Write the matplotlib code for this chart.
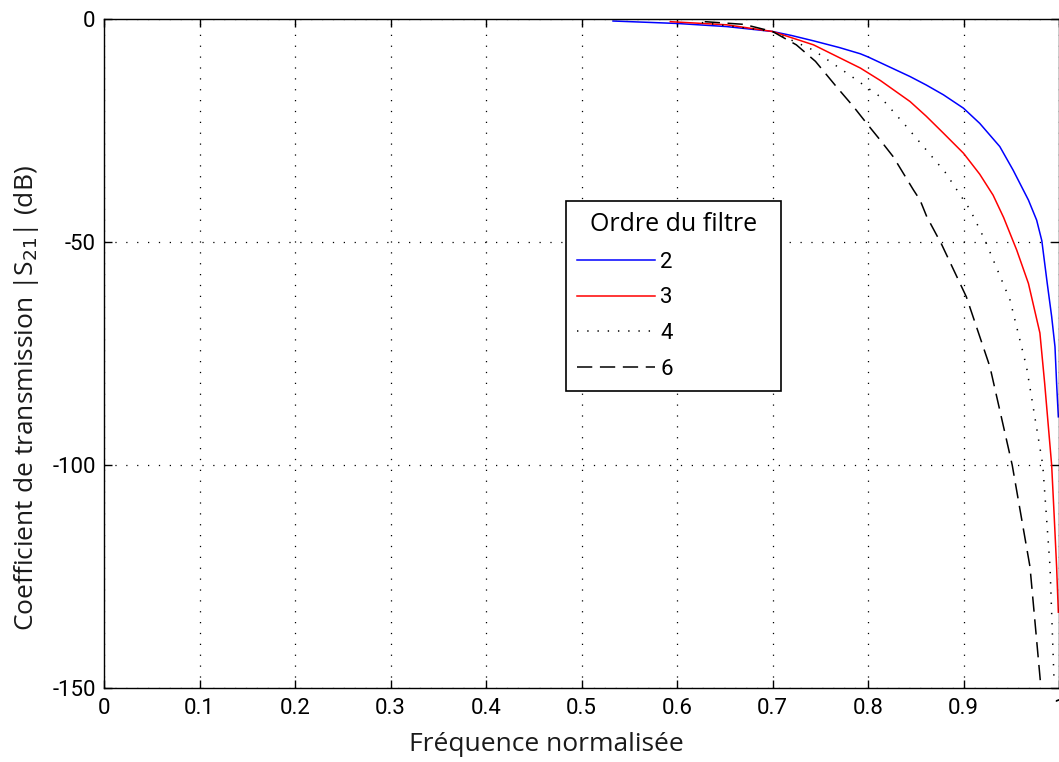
import matplotlib
matplotlib.use("Agg")
import matplotlib.pyplot as plt
from matplotlib.lines import Line2D

# |S21| (dB) vs normalised frequency, one curve per filter order
freq_o2 = [0.533, 0.600, 0.652, 0.700, 0.720, 0.743, 0.770, 0.792, 0.800, 0.844,
           0.861, 0.879, 0.900, 0.917, 0.938, 0.952, 0.968, 0.9766, 0.982,
           0.9877, 0.9923, 0.9958, 0.9975, 0.9993]
s21_o2 = [-0.45, -1.0, -1.7, -2.8, -3.7, -4.9, -6.4, -7.8, -8.5, -12.9,
          -14.8, -17.0, -20.0, -23.4, -28.6, -33.9, -40.6, -45.1, -49.7,
          -59.3, -66.7, -73.5, -81.7, -89.2]

freq_o3 = [0.593, 0.652, 0.700, 0.743, 0.792, 0.813, 0.844, 0.861, 0.879,
           0.900, 0.917, 0.931, 0.942, 0.9557, 0.968, 0.980, 0.985, 0.9923,
           0.995, 0.9975, 0.9993]
s21_o3 = [-0.6, -1.3, -2.8, -5.8, -11.0, -13.8, -18.5, -21.8, -25.6,
          -30.1, -34.8, -39.5, -44.5, -51.8, -59.3, -70.4, -81.7, -100.0,
          -111.6, -122.8, -133.0]

freq_o4 = [0.626, 0.700, 0.743, 0.781, 0.800, 0.8126, 0.839, 0.8806, 0.907,
           0.9225, 0.9487, 0.966, 0.983, 0.9906, 0.9948]
s21_o4 = [-0.8, -2.8, -7.0, -12.6, -15.5, -17.4, -23.8, -34.3, -42.8,
          -49.6, -63.0, -78.0, -100.0, -122.8, -148.2]

freq_o6 = [0.629, 0.670, 0.700, 0.725, 0.745, 0.767, 0.785, 0.7986, 0.8126,
           0.8265, 0.8475, 0.8545, 0.8615, 0.877, 0.903, 0.9277, 0.951,
           0.9696, 0.981]
s21_o6 = [-0.6, -1.2, -2.8, -5.8, -9.5, -15.2, -19.7, -23.4, -27.1,
          -30.9, -38.3, -40.6, -44.3, -50.5, -62.3, -78.0, -100.0,
          -122.8, -149.7]

orders = ["2", "3", "4", "6"]
xticks = [0, 0.1, 0.2, 0.3, 0.4, 0.5, 0.6, 0.7, 0.8, 0.9, 1]
xtick_labels = ["0", "0.1", "0.2", "0.3", "0.4", "0.5", "0.6", "0.7", "0.8", "0.9", "1"]
yticks = [0, -50, -100, -150]
ytick_labels = ["0", "-50", "-100", "-150"]

num_font = "Roboto"
txt_font = "Open Sans"
dotted = (0, (0.9, 5.8))
dashed = (0, (10, 5))

fig = plt.figure(figsize=(10.59, 7.62), dpi=100)
ax = fig.add_axes([104 / 1059, 74 / 762, 955 / 1059, 669 / 762])

ax.plot(freq_o2, s21_o2, color="#0000ff", lw=1.1)
ax.plot(freq_o3, s21_o3, color="#ff0000", lw=1.1)
ax.plot(freq_o4, s21_o4, color="black", lw=1.1, linestyle=dotted)
ax.plot(freq_o6, s21_o6, color="black", lw=1.1, linestyle=dashed)

ax.set_xlim(0, 1)
ax.set_ylim(-150, 0)
ax.set_xticks(xticks)
ax.set_xticklabels(xtick_labels, fontfamily=num_font, fontsize=16)
ax.set_yticks(yticks)
ax.set_yticklabels(ytick_labels, fontfamily=num_font, fontsize=16)
ax.tick_params(direction="in", length=6, width=1.0, top=True, right=True,
               colors="black")
ax.tick_params(axis="x", pad=7)
ax.tick_params(axis="y", pad=6)
for sp in ax.spines.values():
    sp.set_linewidth(1.0)

ax.grid(True, color="black", lw=0.9, linestyle=(0, (1, 7.7)))

ax.set_xlabel("Fréquence normalisée", fontfamily=txt_font, fontsize=19,
              color="#1a1a1a")
ax.xaxis.set_label_coords(0.463, -0.085)
ax.set_ylabel("Coefficient de transmission |S$_{21}$| (dB)", fontfamily=txt_font,
              fontsize=19, color="#1a1a1a")
ax.yaxis.set_label_coords(-0.081, 0.4335)
ax.xaxis.label.set_va("center")
ax.yaxis.label.set_va("center")

handles = [
    Line2D([], [], color="#0000ff", lw=1.1),
    Line2D([], [], color="#ff0000", lw=1.1),
    Line2D([], [], color="black", lw=1.1, linestyle=dotted),
    Line2D([], [], color="black", lw=1.1, linestyle=dashed),
]
leg = ax.legend(handles, orders, title="  Ordre du filtre  ", loc="upper left",
                bbox_to_anchor=(0.4838, 0.728), borderaxespad=0,
                prop={"family": num_font, "size": 16}, handlelength=3.5,
                handletextpad=0.25, labelspacing=0.66, fancybox=False,
                framealpha=1, edgecolor="black", borderpad=0.5,
                alignment="left")
leg.get_title().set_fontfamily(txt_font)
leg.get_title().set_fontsize(18)
leg.get_frame().set_linewidth(1.2)

fig.savefig("out.png", dpi=100)
